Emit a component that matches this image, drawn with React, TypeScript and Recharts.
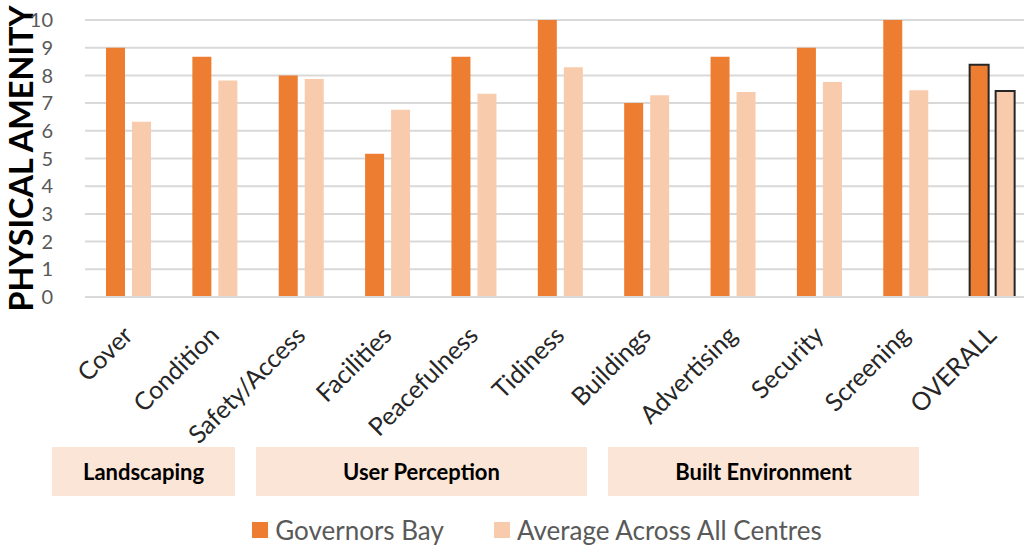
import React from 'react'
import { BarChart, Bar, XAxis, YAxis, CartesianGrid, Legend, Cell } from 'recharts'

// Catégories et valeurs
const categories = [
  'Cover',
  'Condition',
  'Safety/Access',
  'Facilities',
  'Peacefulness',
  'Tidiness',
  'Buildings',
  'Advertising',
  'Security',
  'Screening',
  'OVERALL'
]
const governorsBay = [9, 8.67, 8, 5.17, 8.67, 10, 7, 8.67, 9, 10, 8.38]
const averageAllCentres = [6.33, 7.82, 7.87, 6.76, 7.34, 8.29, 7.28, 7.4, 7.76, 7.46, 7.44]
const yTicks = [0, 1, 2, 3, 4, 5, 6, 7, 8, 9, 10]
const groupLabels = ['Landscaping', 'User Perception', 'Built Environment']

const SERIES_GOV = 'Governors Bay'
const SERIES_AVG = 'Average Across All Centres'

// Boîtes de regroupement sous l'axe (mise en page seulement)
const groupBoxes = [
  { left: 52, width: 183 },
  { left: 256, width: 331 },
  { left: 608, width: 311 }
]

const FONT = 'Lato, "Open Sans", sans-serif'
const GOV_COLOR = '#ED7D31'
const AVG_COLOR = '#F8CBAD'
const GRID_COLOR = '#D9D9D9'

const chartData = categories.map((name, i) => ({
  name,
  gov: governorsBay[i],
  avg: averageAllCentres[i]
}))

// eslint-disable-next-line @typescript-eslint/no-explicit-any
const AngledTick = ({ x, y, payload }: any): React.JSX.Element => (
  <g transform={`translate(${x + 6},${y + 40})`}>
    <text
      textAnchor="end"
      transform="rotate(-45)"
      fill="#262626"
      fontSize={25}
      fontFamily={FONT}
    >
      {payload.value}
    </text>
  </g>
)

// eslint-disable-next-line @typescript-eslint/no-explicit-any
const AxisTitle = ({ viewBox }: any): React.JSX.Element => {
  const cx = 20
  const cy = viewBox.y + viewBox.height / 2
  return (
    <text
      x={cx}
      y={cy}
      transform={`rotate(-90, ${cx}, ${cy})`}
      textAnchor="middle"
      dominantBaseline="central"
      fontSize={32}
      fontWeight={700}
      fontFamily={FONT}
      fill="#000"
      textLength={306}
      lengthAdjust="spacingAndGlyphs"
    >
      PHYSICAL AMENITY
    </text>
  )
}

const LegendContent = (): React.JSX.Element => (
  <div
    style={{
      display: 'flex',
      justifyContent: 'center',
      alignItems: 'center',
      gap: 50,
      fontFamily: FONT,
      fontSize: 26,
      color: '#595959'
    }}
  >
    {[
      { label: SERIES_GOV, color: GOV_COLOR },
      { label: SERIES_AVG, color: AVG_COLOR }
    ].map((item) => (
      <div key={item.label} style={{ display: 'flex', alignItems: 'center', gap: 7 }}>
        <div style={{ width: 16, height: 16, backgroundColor: item.color }} />
        <span>{item.label}</span>
      </div>
    ))}
  </div>
)

function App(): React.JSX.Element {
  const last = categories.length - 1
  return (
    <div
      style={{
        position: 'absolute',
        left: 0,
        top: 0,
        width: 1024,
        height: 548,
        overflow: 'hidden',
        background: '#fff'
      }}
    >
      <BarChart
        width={1040}
        height={548}
        data={chartData}
        margin={{ top: 20, right: 5, left: 0, bottom: 0 }}
        barSize={19}
        barGap={7}
      >
        <CartesianGrid vertical={false} stroke={GRID_COLOR} strokeWidth={2} />
        <XAxis
          dataKey="name"
          interval={0}
          height={251}
          tickLine={false}
          tickSize={0}
          tickMargin={0}
          axisLine={{ stroke: GRID_COLOR, strokeWidth: 2 }}
          tick={<AngledTick />}
        />
        <YAxis
          domain={[0, 10]}
          ticks={yTicks}
          interval={0}
          width={85}
          tickLine={false}
          axisLine={false}
          tickSize={0}
          tickMargin={32}
          tick={{ fill: '#595959', fontSize: 20, fontFamily: FONT }}
          label={<AxisTitle />}
        />
        <Legend
          verticalAlign="middle"
          wrapperStyle={{ top: 514, left: 0, width: 1074 }}
          content={<LegendContent />}
        />
        <Bar dataKey="gov" name={SERIES_GOV} fill={GOV_COLOR} isAnimationActive={false}>
          {chartData.map((_, i) => (
            <Cell
              key={`gov-${i}`}
              fill={GOV_COLOR}
              stroke={i === last ? '#262626' : 'none'}
              strokeWidth={i === last ? 2 : 0}
            />
          ))}
        </Bar>
        <Bar dataKey="avg" name={SERIES_AVG} fill={AVG_COLOR} isAnimationActive={false}>
          {chartData.map((_, i) => (
            <Cell
              key={`avg-${i}`}
              fill={AVG_COLOR}
              stroke={i === last ? '#262626' : 'none'}
              strokeWidth={i === last ? 2 : 0}
            />
          ))}
        </Bar>
      </BarChart>

      {groupLabels.map((label, i) => (
        <div
          key={label}
          style={{
            position: 'absolute',
            left: groupBoxes[i].left,
            top: 447,
            width: groupBoxes[i].width,
            height: 49,
            backgroundColor: '#FBE5D6',
            display: 'flex',
            alignItems: 'center',
            justifyContent: 'center',
            fontFamily: FONT,
            fontWeight: 700,
            fontSize: 22,
            color: '#000'
          }}
        >
          {label}
        </div>
      ))}
    </div>
  )
}

export default App
